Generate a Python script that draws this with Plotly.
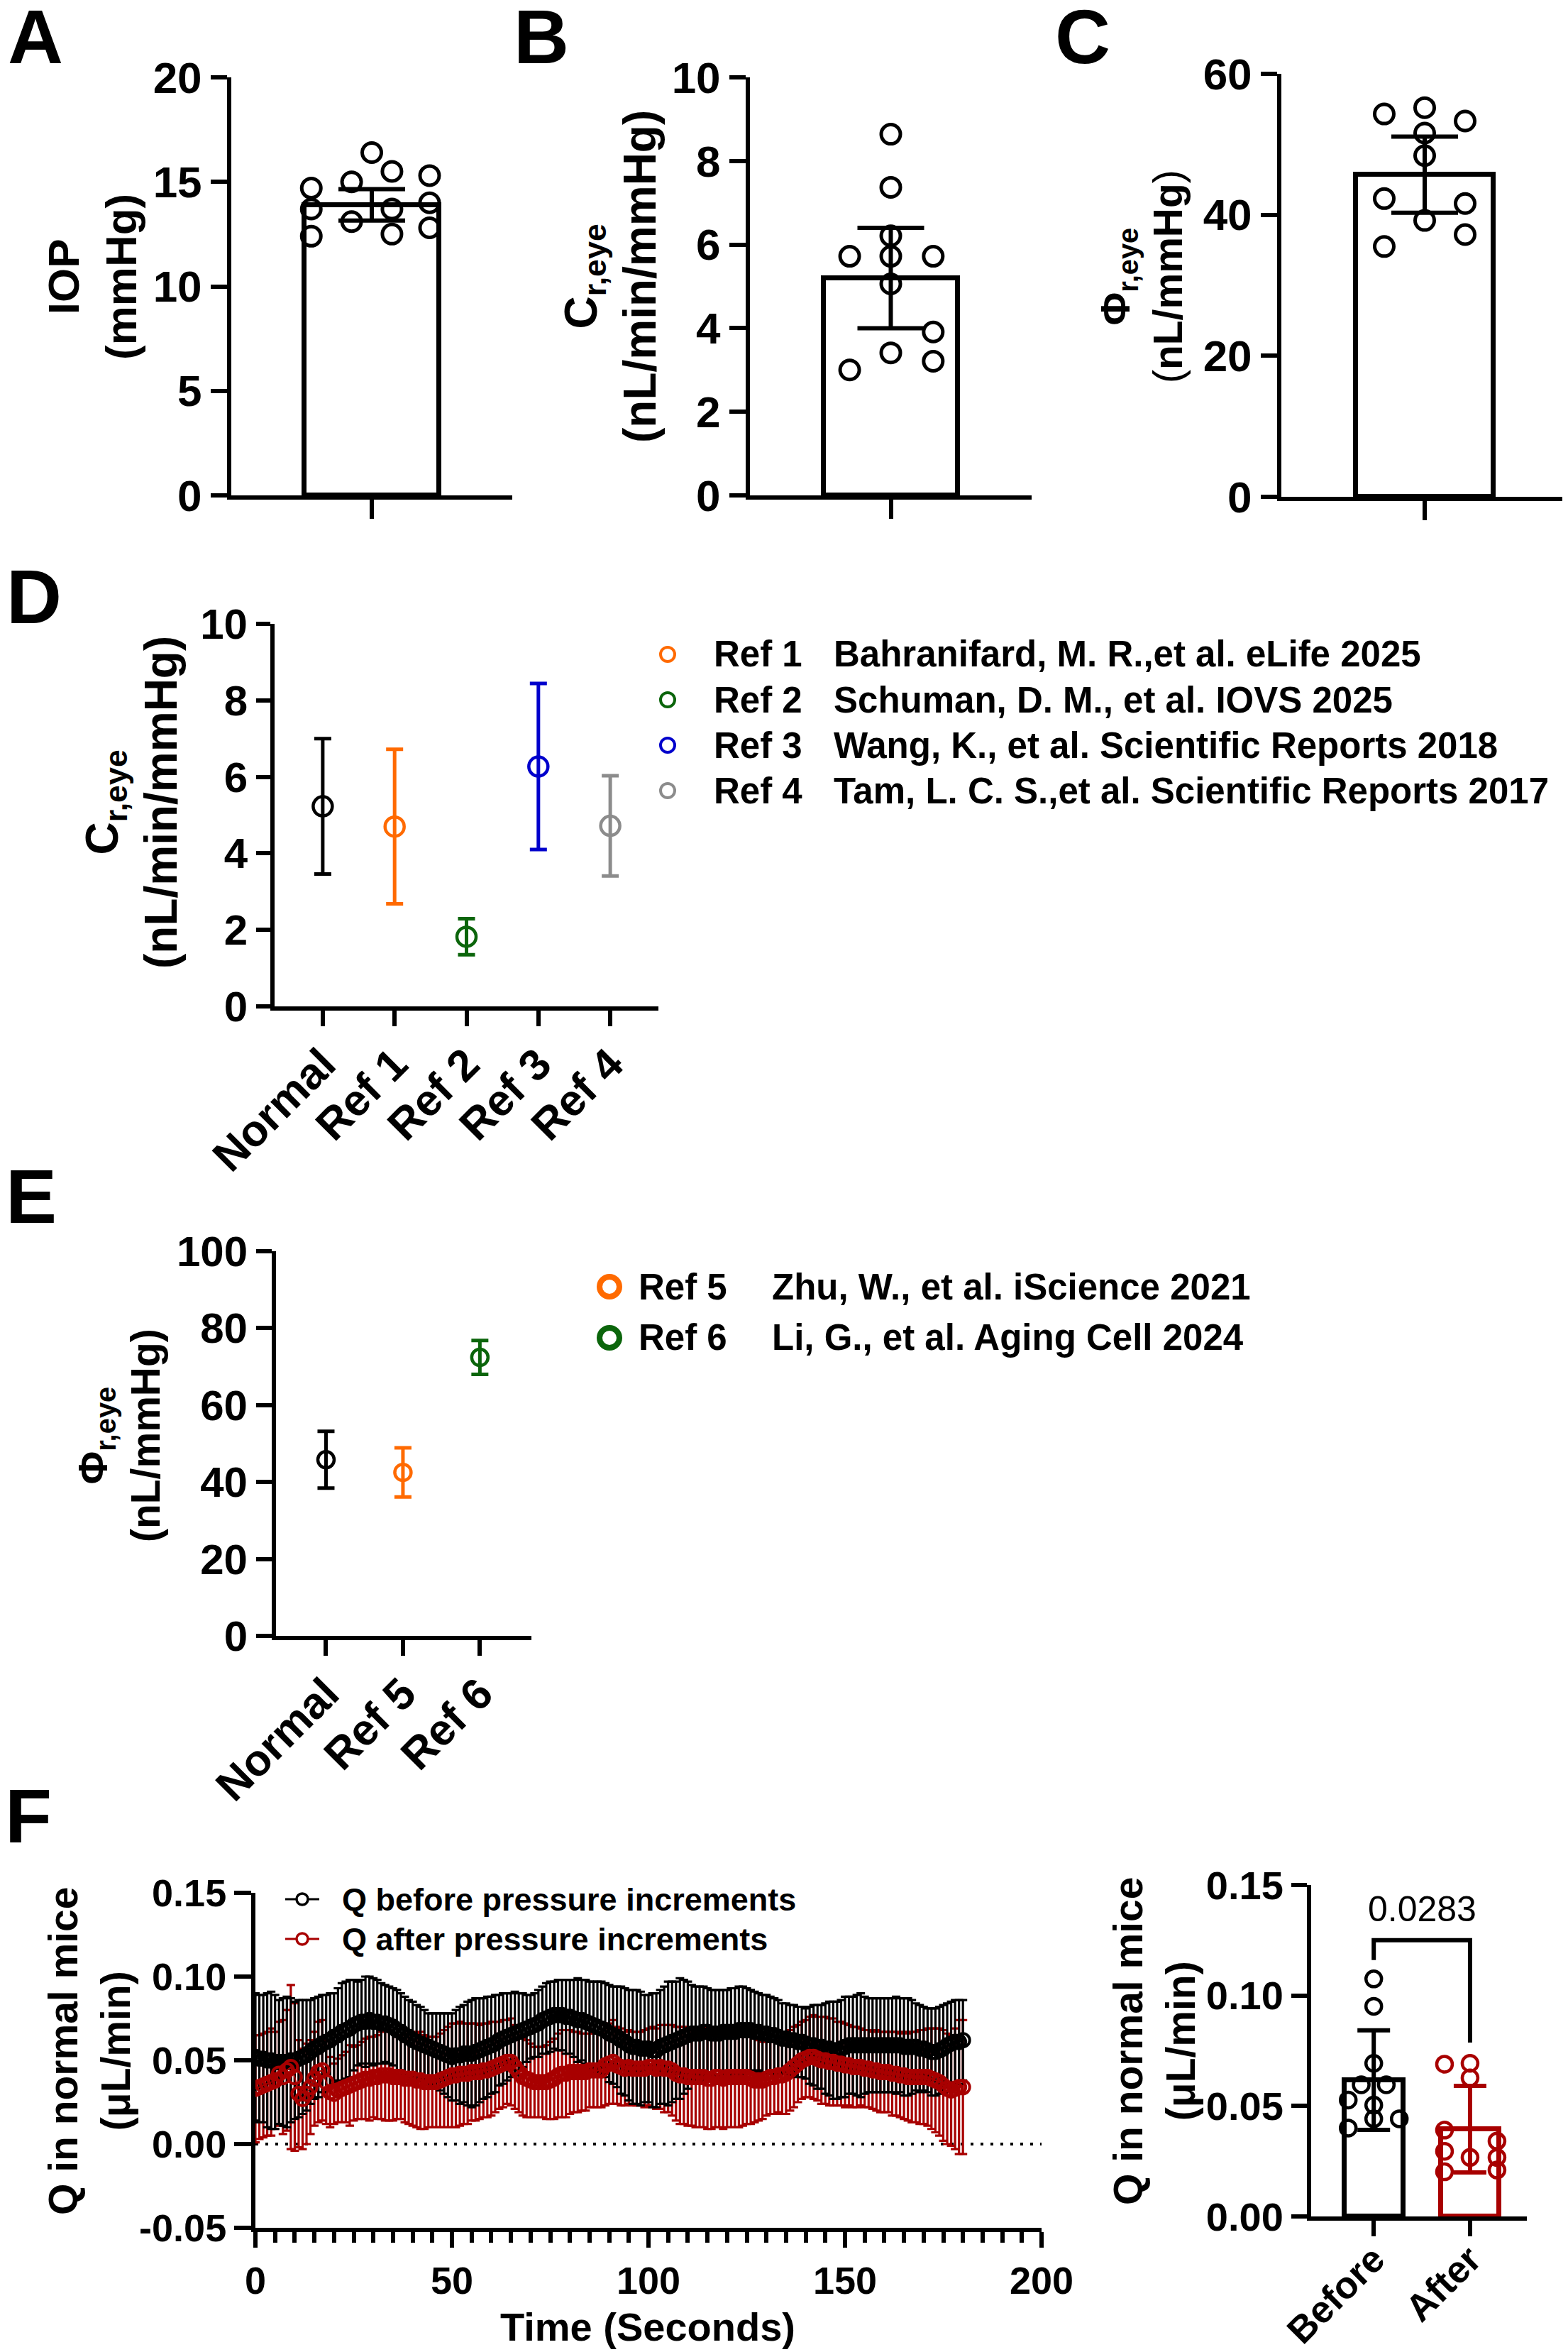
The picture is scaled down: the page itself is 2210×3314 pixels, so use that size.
import plotly.graph_objects as go

# ---------------- data ----------------
# A  IOP (mmHg)
iop_vals = [14.7, 13.7, 12.4, 15.0, 13.1, 16.4, 15.5, 13.7, 12.5, 15.3, 14.0, 12.8]
iop_mean, iop_sd = 13.9, 0.75
# B  C_r,eye (nL/min/mmHg)
c_vals = [8.64, 7.37, 6.21, 5.72, 5.72, 5.72, 5.06, 3.91, 3.41, 3.21, 3.0]
c_mean, c_sd = 5.2, 1.2
# C  Phi_r,eye (nL/mmHg)
phi_vals = [54.3, 55.2, 53.3, 51.6, 48.4, 42.3, 41.6, 39.2, 35.5, 37.2]
phi_mean, phi_sd = 45.7, 5.4

# D  comparison with literature
d_cats = ["Normal", "Ref 1", "Ref 2", "Ref 3", "Ref 4"]
d_mean = [5.23, 4.70, 1.82, 6.27, 4.72]
d_sd = [1.77, 2.02, 0.47, 2.17, 1.31]
d_refs = ["Ref 1", "Ref 2", "Ref 3", "Ref 4"]
d_cites = ["Bahranifard, M. R.,et al. eLife 2025",
           "Schuman, D. M., et al. IOVS 2025",
           "Wang, K., et al. Scientific Reports 2018",
           "Tam, L. C. S.,et al. Scientific Reports 2017"]

# E
e_cats = ["Normal", "Ref 5", "Ref 6"]
e_mean = [45.8, 42.5, 72.4]
e_sd = [7.4, 6.4, 4.4]
e_refs = ["Ref 5", "Ref 6"]
e_cites = ["Zhu, W., et al. iScience 2021", "Li, G., et al. Aging Cell 2024"]

# F  Q over time (uL/min), one point per second
t_sec = list(range(181))
q_before = [.052, .051, .051, .050, .050, .049, .049, .049, .049, .050,
            .050, .051, .052, .053, .055, .057, .058, .060, .061, .062,
            .064, .065, .067, .068, .069, .071, .072, .073, .073, .074,
            .073, .073, .072, .072, .071, .070, .068, .067, .065, .064,
            .062, .061, .060, .059, .058, .057, .056, .055, .054, .053,
            .052, .053, .053, .054, .054, .054, .055, .056, .057, .058,
            .059, .060, .062, .063, .064, .065, .066, .067, .068, .069,
            .070, .071, .072, .074, .075, .076, .077, .077, .077, .076,
            .076, .075, .074, .074, .073, .072, .071, .070, .069, .068,
            .066, .065, .064, .062, .061, .059, .058, .058, .057, .057,
            .057, .056, .056, .058, .059, .060, .061, .062, .063, .064,
            .065, .066, .066, .066, .067, .067, .066, .066, .066, .067,
            .067, .067, .067, .068, .068, .068, .068, .067, .067, .066,
            .066, .065, .065, .064, .063, .063, .062, .062, .061, .061,
            .060, .059, .059, .058, .058, .057, .057, .056, .056, .057,
            .058, .059, .059, .059, .059, .059, .059, .059, .059, .059,
            .059, .059, .059, .059, .059, .058, .058, .058, .058, .057,
            .057, .056, .055, .055, .056, .057, .059, .060, .061, .061,
            .062]
q_before_sd = [.038, .038, .038, .040, .041, .040, .037, .038, .039, .037,
               .035, .035, .034, .033, .031, .030, .030, .029, .028, .028,
               .026, .028, .029, .029, .029, .027, .025, .025, .027, .026,
               .026, .025, .024, .023, .023, .023, .024, .023, .023, .022,
               .023, .022, .022, .021, .020, .021, .022, .023, .024, .025,
               .026, .027, .029, .029, .031, .032, .032, .031, .030, .030,
               .029, .029, .027, .027, .026, .025, .025, .023, .022, .020,
               .019, .019, .020, .020, .021, .021, .020, .021, .021, .022,
               .022, .023, .025, .024, .025, .025, .026, .027, .028, .028,
               .029, .029, .030, .032, .032, .033, .034, .034, .034, .032,
               .032, .034, .034, .034, .035, .037, .036, .035, .036, .034,
               .032, .029, .028, .028, .027, .026, .026, .026, .026, .025,
               .025, .026, .026, .026, .026, .025, .024, .024, .023, .023,
               .023, .023, .022, .022, .021, .021, .021, .021, .021, .021,
               .021, .023, .024, .025, .025, .027, .028, .029, .029, .029,
               .030, .029, .029, .030, .031, .029, .028, .028, .028, .028,
               .028, .028, .028, .029, .028, .029, .029, .028, .026, .026,
               .025, .025, .026, .026, .026, .026, .025, .025, .025, .025,
               .024]
q_after = [.033, .034, .035, .036, .037, .038, .042, .040, .044, .046,
           .040, .030, .027, .030, .034, .039, .043, .044, .037, .031,
           .030, .032, .033, .034, .035, .036, .037, .038, .039, .039,
           .040, .040, .041, .041, .041, .040, .040, .040, .039, .039,
           .039, .038, .038, .037, .037, .037, .037, .038, .039, .040,
           .041, .041, .042, .042, .042, .043, .043, .043, .044, .044,
           .045, .046, .047, .048, .049, .049, .046, .043, .040, .039,
           .038, .037, .037, .037, .037, .038, .039, .041, .042, .042,
           .043, .043, .043, .043, .043, .044, .044, .044, .044, .047,
           .048, .049, .047, .046, .045, .046, .045, .045, .045, .045,
           .046, .046, .045, .046, .045, .045, .044, .042, .041, .041,
           .040, .040, .040, .040, .040, .039, .039, .040, .040, .039,
           .040, .040, .040, .040, .040, .040, .039, .038, .038, .038,
           .039, .040, .040, .041, .041, .042, .044, .046, .048, .050,
           .051, .052, .052, .051, .050, .050, .049, .049, .048, .048,
           .047, .047, .046, .046, .046, .045, .045, .044, .044, .043,
           .043, .043, .042, .042, .041, .041, .040, .040, .040, .040,
           .040, .040, .039, .038, .037, .035, .033, .032, .033, .034,
           .034]
q_after_sd = [.032, .031, .031, .031, .032, .029, .031, .034, .036, .049,
              .044, .032, .030, .030, .028, .028, .030, .030, .025, .021,
              .018, .019, .020, .021, .024, .022, .022, .023, .024, .025,
              .024, .025, .026, .027, .027, .026, .025, .025, .026, .027,
              .028, .028, .029, .028, .027, .027, .027, .028, .029, .030,
              .031, .031, .031, .030, .030, .029, .029, .028, .028, .028,
              .028, .027, .026, .026, .025, .026, .025, .024, .023, .023,
              .022, .021, .021, .021, .022, .023, .024, .025, .026, .026,
              .025, .024, .024, .023, .023, .022, .022, .022, .022, .024,
              .024, .025, .023, .023, .022, .022, .022, .022, .022, .023,
              .023, .024, .024, .025, .026, .026, .027, .028, .029, .029,
              .029, .029, .030, .030, .030, .030, .030, .030, .030, .030,
              .030, .030, .030, .030, .029, .028, .027, .025, .024, .023,
              .022, .022, .022, .022, .023, .024, .024, .024, .023, .023,
              .023, .024, .025, .025, .026, .026, .026, .026, .025, .025,
              .025, .024, .024, .024, .023, .023, .023, .023, .024, .024,
              .024, .024, .025, .025, .025, .026, .026, .027, .027, .028,
              .028, .029, .030, .031, .032, .033, .033, .033, .036, .040,
              .040]

# F right: mean Q per mouse
g_cats = ["Before", "After"]
q_before_pts = [0.1075, 0.0951, 0.0693, 0.0596, 0.0596, 0.0527, 0.0504, 0.0442, 0.0442, 0.040]
q_after_pts = [0.0689, 0.0693, 0.0627, 0.0391, 0.0341, 0.0295, 0.0267, 0.0267, 0.0202, 0.021]
g_mean = [0.0617, 0.0395]
g_sd = [0.0225, 0.0196]
p_value = "0.0283"

# ---------------- layout helpers ----------------
# page body keeps an 8px margin, so the figure is drawn 8px in from the corner
OFF = 8
W, H = 2210 - OFF, 3314 - OFF
FONT = "Liberation Sans, Arial, sans-serif"
RED = "#A80000"
ref_colors = ["black", "#FF6A00", "#0B650B", "#0000CC", "#8C8C8C"]
e_colors = ["black", "#FF6A00", "#0B650B"]

# dot scatter offsets (fraction of bar half width), layout only
jit_a = [-0.9, -0.9, -0.9, -0.3, -0.3, 0, 0.3, 0.3, 0.3, 0.86, 0.86, 0.86]
jit_b = [0, 0, 0, -0.61, 0, 0.63, 0, 0.63, 0, 0.63, -0.61]
jit_c = [-0.59, 0, 0.59, 0, 0, -0.59, 0.59, 0, -0.59, 0.59]
jit_before = [0, 0, 0, -0.13, 0.13, -0.265, 0, 0, 0.265, -0.265]
jit_after = [-0.265, 0, 0, -0.265, 0.28, -0.265, 0, 0.28, -0.265, 0.28]


def px(x):
    return (x - OFF) / W


def py(y):
    return 1 - (y - OFF) / H


def bold(size):
    return dict(family=FONT, size=size, color="black", weight="bold")


def axis(dom, **kw):
    a = dict(domain=dom, showline=True, linecolor="black", linewidth=6,
             ticks="outside", tickcolor="black", tickwidth=6, ticklen=22,
             showgrid=False, zeroline=False, tickfont=bold(60), fixedrange=True,
             automargin=False)
    a.update(kw)
    return a


fig = go.Figure()

# ---- A, B, C: bar + SD + points ----
bar_panels = [
    (1, iop_vals, jit_a, iop_mean, iop_sd),
    (2, c_vals, jit_b, c_mean, c_sd),
    (3, phi_vals, jit_c, phi_mean, phi_sd),
]
for i, vals, jit, m, s in bar_panels:
    xa, ya = ("x", "y") if i == 1 else ("x%d" % i, "y%d" % i)
    fig.add_trace(go.Bar(x=[0], y=[m], width=[2], xaxis=xa, yaxis=ya,
                         marker=dict(color="white", line=dict(color="black", width=7))))
    fig.add_trace(go.Scatter(x=[0], y=[m], mode="markers", xaxis=xa, yaxis=ya,
                             marker=dict(size=1, color="rgba(0,0,0,0)"),
                             error_y=dict(type="data", array=[s], color="black",
                                          thickness=6, width=47)))
    fig.add_trace(go.Scatter(x=jit, y=vals, mode="markers", xaxis=xa, yaxis=ya,
                             cliponaxis=False,
                             marker=dict(symbol="circle-open", size=27, color="black",
                                         line=dict(width=5))))

# ---- D ----
for k in range(len(d_cats)):
    fig.add_trace(go.Scatter(x=[d_cats[k]], y=[d_mean[k]], mode="markers",
                             xaxis="x4", yaxis="y4", cliponaxis=False,
                             marker=dict(symbol="circle-open", size=27, color=ref_colors[k],
                                         line=dict(width=4.5)),
                             error_y=dict(type="data", array=[d_sd[k]], color=ref_colors[k],
                                          thickness=5, width=12)))

# ---- E ----
for k in range(len(e_cats)):
    fig.add_trace(go.Scatter(x=[e_cats[k]], y=[e_mean[k]], mode="markers",
                             xaxis="x5", yaxis="y5", cliponaxis=False,
                             marker=dict(symbol="circle-open", size=23, color=e_colors[k],
                                         line=dict(width=4.5)),
                             error_y=dict(type="data", array=[e_sd[k]], color=e_colors[k],
                                          thickness=5, width=12)))

# ---- F left: time series ----
# red SD bars sit under the black series, red points on top
fig.add_trace(go.Scatter(x=t_sec, y=q_after, mode="markers", xaxis="x6", yaxis="y6",
                         marker=dict(size=1, color="rgba(0,0,0,0)"),
                         error_y=dict(type="data", array=q_after_sd, color=RED,
                                      thickness=3.2, width=6)))
fig.add_trace(go.Scatter(x=t_sec, y=q_before, mode="lines+markers", xaxis="x6", yaxis="y6",
                         line=dict(color="black", width=2),
                         marker=dict(symbol="circle-open", size=19, color="black",
                                     line=dict(width=4)),
                         error_y=dict(type="data", array=q_before_sd, color="black",
                                      thickness=3.2, width=6)))
fig.add_trace(go.Scatter(x=t_sec, y=q_after, mode="lines+markers", xaxis="x6", yaxis="y6",
                         line=dict(color=RED, width=2),
                         marker=dict(symbol="circle-open", size=19, color=RED,
                                     line=dict(width=4))))

# ---- F right: before / after ----
for k, (pts, jit, col) in enumerate([(q_before_pts, jit_before, "black"),
                                     (q_after_pts, jit_after, RED)]):
    fig.add_trace(go.Bar(x=[k], y=[g_mean[k]], width=[0.61], xaxis="x7", yaxis="y7",
                         marker=dict(color="white", line=dict(color=col, width=7))))
    fig.add_trace(go.Scatter(x=[k], y=[g_mean[k]], mode="markers", xaxis="x7", yaxis="y7",
                             marker=dict(size=1, color="rgba(0,0,0,0)"),
                             error_y=dict(type="data", array=[g_sd[k]], color=col,
                                          thickness=6, width=23)))
    fig.add_trace(go.Scatter(x=[k + j for j in jit], y=pts, mode="markers",
                             xaxis="x7", yaxis="y7", cliponaxis=False,
                             marker=dict(symbol="circle-open", size=22, color=col,
                                         line=dict(width=4.5))))
# significance bracket
fig.add_trace(go.Scatter(x=[0, 0, 1, 1], y=[0.116, 0.125, 0.125, 0.0787], mode="lines",
                         xaxis="x7", yaxis="y7", line=dict(color="black", width=6),
                         cliponaxis=False))

# ---------------- axes ----------------
lay = {}
# A, B, C
for i, (top, bot, left, right, rng, dt) in enumerate([
        (109, 698, 326, 722, [0, 20], 5),
        (109, 698, 1057, 1454, [0, 10], 2),
        (104, 700, 1806, 2210, [0, 60], 20)], start=1):
    sx = "" if i == 1 else str(i)
    lay["xaxis" + sx] = axis([px(left), min(px(right), 1)], range=[-2.09, 2.09],
                             tickvals=[0], showticklabels=False, ticklen=27,
                             anchor="y" + sx)
    lay["yaxis" + sx] = axis([py(bot), py(top)], range=rng, dtick=dt, tick0=0,
                             ticklen=23, tickfont=bold(62), anchor="x" + sx)

lay["xaxis4"] = axis([px(387), px(928)], type="category", range=[-0.67, 4.67],
                     tickangle=-45, tickfont=bold(62), anchor="y4", ticklabelstandoff=-8)
lay["yaxis4"] = axis([py(1418), py(879)], range=[0, 10], dtick=2, anchor="x4", ticklen=20)

lay["xaxis5"] = axis([px(389), px(749)], type="category", range=[-0.65, 2.67],
                     tickangle=-45, tickfont=bold(62), anchor="y5", ticklabelstandoff=-8)
lay["yaxis5"] = axis([py(2305), py(1763)], range=[0, 100], dtick=20, anchor="x5")

lay["xaxis6"] = axis([px(360), px(1468)], range=[0, 200], tickvals=[0, 50, 100, 150, 200],
                     tickfont=bold(54), anchor="y6",
                     minor=dict(ticks="outside", dtick=5, tick0=0, ticklen=15,
                                tickwidth=6, tickcolor="black"))
lay["yaxis6"] = axis([py(3139), py(2667)], range=[-0.05, 0.15],
                     tickvals=[-0.05, 0, 0.05, 0.10, 0.15],
                     ticktext=["-0.05", "0.00", "0.05", "0.10", "0.15"],
                     tickfont=bold(54), anchor="x6", ticklen=24)

lay["xaxis7"] = axis([px(1848), px(2152)], range=[-0.65, 1.59], tickvals=[0, 1],
                     ticktext=g_cats, tickangle=-45, tickfont=bold(53), anchor="y7",
                     ticklabelstandoff=-20)
lay["yaxis7"] = axis([py(3123), py(2656)], range=[0, 0.15], tickvals=[0, 0.05, 0.10, 0.15],
                     ticktext=["0.00", "0.05", "0.10", "0.15"], tickfont=bold(56),
                     anchor="x7", ticklen=22)

# ---------------- annotations ----------------
ann = []


def text(x, y, s, size, xanchor="center", angle=0, weight="bold"):
    ann.append(dict(x=px(x), y=py(y), xref="paper", yref="paper", text=s,
                    showarrow=False, xanchor=xanchor, yanchor="middle",
                    textangle=angle,
                    font=dict(family=FONT, size=size, color="black", weight=weight)))


# panel letters
for letter, x, y in [("A", 50, 52), ("B", 763, 52), ("C", 1526, 52),
                     ("D", 48, 840), ("E", 44, 1685), ("F", 40, 2558)]:
    text(x, y, letter, 108)

# y-axis titles
text(130, 390, "IOP<br>(mmHg)", 62, angle=-90)
text(860, 390, "C<sub>r,eye</sub><br>(nL/min/mmHg)", 64, angle=-90)
text(1609, 390, "\u03a6<sub>r,eye</sub><br><span style='font-weight:normal'>(</span>"
     "nL/mmHg<span style='font-weight:normal'>)</span>", 57, angle=-90)
text(185, 1130, "C<sub>r,eye</sub><br>(nL/min/mmHg)", 64, angle=-90)
text(168, 2023, "\u03a6<sub>r,eye</sub><br>(nL/mmHg)", 57, angle=-90)
text(126, 2890, "Q in normal mice<br>(\u03bcL/min)", 57, angle=-90)
text(1627, 2876, "Q in normal mice<br>(\u03bcL/min)", 57, angle=-90)
text(913, 3278, "Time (Seconds)", 56)

# D legend
for k, (r, c) in enumerate(zip(d_refs, d_cites)):
    yy = 922 + k * 64
    text(1004, yy, r, 51, xanchor="left")
    text(1173, yy, c, 51, xanchor="left")
# E legend
for k, (r, c) in enumerate(zip(e_refs, e_cites)):
    yy = 1813 + k * 72
    text(898, yy, r, 51, xanchor="left")
    text(1086, yy, c, 51, xanchor="left")
# F legend
text(480, 2676, "Q before pressure increments", 45, xanchor="left")
text(480, 2732, "Q after pressure increments", 45, xanchor="left")
# p value
ann.append(dict(x=0.5, y=0.139, xref="x7", yref="y7", text=p_value, showarrow=False,
                xanchor="center", yanchor="middle",
                font=dict(family=FONT, size=50, color="black")))

# ---------------- shapes ----------------
shapes = []


def ring(x, y, r, col, w):
    shapes.append(dict(type="circle", xref="paper", yref="paper",
                       xsizemode="pixel", ysizemode="pixel",
                       xanchor=px(x), yanchor=py(y), x0=-r, x1=r, y0=-r, y1=r,
                       line=dict(color=col, width=w), fillcolor="white"))


for k in range(4):
    ring(941, 922 + k * 64, 10, ref_colors[k + 1], 4)
for k in range(2):
    ring(859, 1813 + k * 72, 14, e_colors[k + 1], 8)
for k, col in enumerate(["black", RED]):
    yy = 2676 + k * 56
    shapes.append(dict(type="line", xref="paper", yref="paper", x0=px(402), x1=px(450),
                       y0=py(yy), y1=py(yy), line=dict(color=col, width=3)))
    ring(426, yy, 8, col, 3.5)
# dotted zero line
shapes.append(dict(type="line", xref="x6", yref="y6", x0=0, x1=200, y0=0, y1=0,
                   layer="below", line=dict(color="black", width=4, dash="4px,10px")))

fig.update_layout(template="none", width=W, height=H, margin=dict(l=0, r=0, t=0, b=0),
                  paper_bgcolor="white", plot_bgcolor="white", showlegend=False,
                  bargap=0, annotations=ann, shapes=shapes, **lay)

fig.write_html("out.html")
